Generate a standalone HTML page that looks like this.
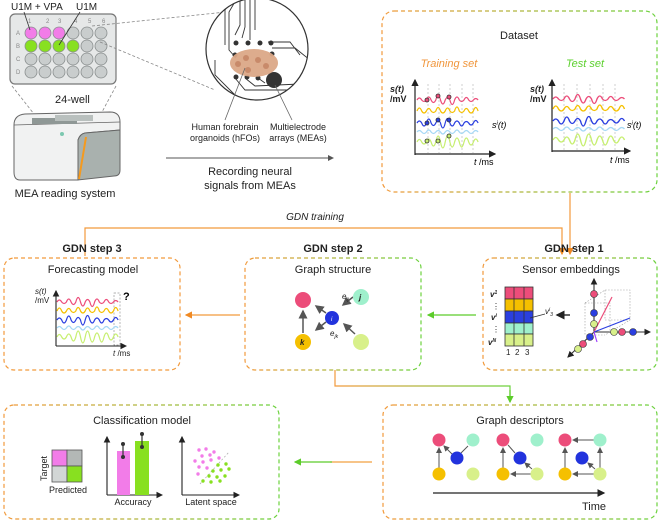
<!DOCTYPE html>
<html><head><meta charset="utf-8"><style>
html,body{margin:0;padding:0;background:#fff;}
svg{display:block;font-family:"Liberation Sans",sans-serif;}
</style></head><body>
<svg width="660" height="522" viewBox="0 0 660 522" xmlns="http://www.w3.org/2000/svg">
<defs>
<linearGradient id="og" x1="0" x2="1" y1="0" y2="0"><stop offset="0" stop-color="#f29a3c"/><stop offset="1" stop-color="#6cd23e"/></linearGradient>
<marker id="ao" markerWidth="6" markerHeight="6" refX="5" refY="3" orient="auto"><path d="M0,0 L6,3 L0,6 z" fill="#f08a24"/></marker>
<marker id="ag" markerWidth="6" markerHeight="6" refX="5" refY="3" orient="auto"><path d="M0,0 L6,3 L0,6 z" fill="#5ccc2a"/></marker>
<marker id="ak" markerWidth="6" markerHeight="6" refX="5" refY="3" orient="auto"><path d="M0,0 L6,3 L0,6 z" fill="#222"/></marker>
<marker id="as" markerWidth="6" markerHeight="6" refX="5" refY="3" orient="auto"><path d="M0,0 L6,3 L0,6 z" fill="#555"/></marker>
<path id="wA" d="M0,0 q2.5,-4 5,0 q2.5,3 5,0 q2.5,-6 5,0 q2.5,5 5,0 q2.5,-9 5,0 q2.5,8 5,0 q2.5,-5 5,0 q2.5,9 5,0 q2.5,-6 5,0 q2.5,3 5,0 q2.5,-5 5,0 q2.5,3 5,0 q2.5,-3 5,0" fill="none" stroke-width="1.3"/>
<path id="wB" d="M0,0 q2.5,-6 5,0 q2.5,4 5,0 q2.5,-5 5,0 q2.5,3 5,0 q2.5,-7 5,0 q2.5,4 5,0 q2.5,-6 5,0 q2.5,3 5,0 q2.5,-8 5,0 q2.5,3 5,0 q2.5,-5 5,0 q2.5,4 5,0 q2.5,-7 5,0" fill="none" stroke-width="1.3"/>
<path id="wC" d="M0,0 q2.5,-4 5,0 q2.5,6 5,0 q2.5,-8 5,0 q2.5,5 5,0 q2.5,-5 5,0 q2.5,10 5,0 q2.5,-9 5,0 q2.5,6 5,0 q2.5,-4 5,0 q2.5,6 5,0 q2.5,-3 5,0 q2.5,4 5,0 q2.5,-5 5,0" fill="none" stroke-width="1.3"/>
<path id="wD" d="M0,0 q2.5,-3 5,0 q2.5,3 5,0 q2.5,-4 5,0 q2.5,3 5,0 q2.5,-3 5,0 q2.5,4 5,0 q2.5,-3 5,0 q2.5,3 5,0 q2.5,-4 5,0 q2.5,3 5,0 q2.5,-3 5,0 q2.5,3 5,0 q2.5,-3 5,0" fill="none" stroke-width="1.3"/>
<path id="wE" d="M0,0 q2.5,-5 5,0 q2.5,4 5,0 q2.5,-6 5,0 q2.5,8 5,0 q2.5,-12 5,0 q2.5,12 5,0 q2.5,-12 5,0 q2.5,10 5,0 q2.5,-8 5,0 q2.5,10 5,0 q2.5,-8 5,0 q2.5,6 5,0 q2.5,-6 5,0" fill="none" stroke-width="1.3"/>
</defs>

<!-- 24-well plate -->
<rect x="10" y="14" width="106" height="70" rx="5" fill="#e6e8e8" stroke="#777" stroke-width="1.2"/>
<g font-size="6" fill="#888">
<text x="28" y="23">1</text><text x="46" y="23">2</text><text x="58" y="23">3</text><text x="74" y="23">4</text><text x="88" y="23">5</text><text x="102" y="23">6</text>
<text x="16" y="35">A</text><text x="16" y="48">B</text><text x="16" y="61">C</text><text x="16" y="74">D</text></g>
<g stroke="#8a8f8f" stroke-width="0.8">
<circle cx="31" cy="33" r="6" fill="#f27ce8"/><circle cx="45" cy="33" r="6" fill="#f27ce8"/><circle cx="59" cy="33" r="6" fill="#f27ce8"/>
<circle cx="73" cy="33" r="6" fill="#c9cdcd"/><circle cx="87" cy="33" r="6" fill="#c9cdcd"/><circle cx="101" cy="33" r="6" fill="#c9cdcd"/>
<circle cx="31" cy="46" r="6" fill="#88e020"/><circle cx="45" cy="46" r="6" fill="#88e020"/><circle cx="59" cy="46" r="6" fill="#88e020"/><circle cx="73" cy="46" r="6" fill="#88e020"/>
<circle cx="87" cy="46" r="6" fill="#c9cdcd"/><circle cx="101" cy="46" r="6" fill="#c9cdcd"/>
<circle cx="31" cy="59" r="6" fill="#c9cdcd"/><circle cx="45" cy="59" r="6" fill="#c9cdcd"/><circle cx="59" cy="59" r="6" fill="#c9cdcd"/><circle cx="73" cy="59" r="6" fill="#c9cdcd"/><circle cx="87" cy="59" r="6" fill="#c9cdcd"/><circle cx="101" cy="59" r="6" fill="#c9cdcd"/>
<circle cx="31" cy="72" r="6" fill="#c9cdcd"/><circle cx="45" cy="72" r="6" fill="#c9cdcd"/><circle cx="59" cy="72" r="6" fill="#c9cdcd"/><circle cx="73" cy="72" r="6" fill="#c9cdcd"/><circle cx="87" cy="72" r="6" fill="#c9cdcd"/><circle cx="101" cy="72" r="6" fill="#c9cdcd"/>
</g>
<line x1="24" y1="12" x2="30" y2="30" stroke="#333" stroke-width="0.8"/>
<line x1="80" y1="12" x2="59" y2="45" stroke="#333" stroke-width="0.8"/>
<text x="11" y="10" font-size="10" fill="#222">U1M + VPA</text>
<text x="76" y="10" font-size="10" fill="#222">U1M</text>
<text x="55" y="103" font-size="11" fill="#222">24-well</text>
<g stroke="#888" stroke-width="0.8" stroke-dasharray="3,2" fill="none">
<line x1="92" y1="26" x2="245" y2="10"/><line x1="100" y1="42" x2="215" y2="90"/>
<line x1="12" y1="86" x2="45" y2="128"/><line x1="116" y1="86" x2="95" y2="125"/></g>

<!-- MEA machine -->
<path d="M14,125 Q14,115 25,114 L110,112 Q120,112 120,122 L120,130 L85,133 Q80,134 78,140 L78,180 L20,180 Q14,180 14,172 Z" fill="#f1f2f2" stroke="#666" stroke-width="1"/>
<path d="M78,140 Q80,134 85,133 L120,130 L120,170 Q120,176 114,176 L78,180 Z" fill="#a9b1ae" stroke="#666" stroke-width="1"/>
<path d="M14,125 L120,122" stroke="#666" stroke-width="0.8"/>
<rect x="32" y="118" width="45" height="6" fill="#8f9896"/><rect x="55" y="115" width="38" height="6" fill="#b9c0be"/>
<circle cx="62" cy="134" r="2" fill="#7cc8b0"/>
<line x1="86" y1="137" x2="79" y2="179" stroke="#f59a1e" stroke-width="2"/>
<text x="65" y="197" font-size="11" fill="#222" text-anchor="middle">MEA reading system</text>

<!-- MEA circle -->
<clipPath id="cc"><circle cx="257" cy="49" r="51"/></clipPath>
<circle cx="257" cy="49" r="51" fill="#fff" stroke="#333" stroke-width="1.2"/>
<g clip-path="url(#cc)" fill="none" stroke="#333" stroke-width="0.9">
<path d="M240,-5 L240,25 L235,35"/><path d="M245,-5 L245,27 L242,38"/><path d="M250,-5 L250,30 L250,40"/><path d="M255,-5 L255,30"/>
<path d="M232,0 L225,10 L225,45"/><path d="M236,0 L229,12 L229,50 L236,58"/>
<path d="M268,42 L290,42 L300,55"/><path d="M272,48 L295,48 L310,60"/>
<path d="M235,78 L245,90 L300,90"/><path d="M245,78 L255,86 L300,84"/><path d="M215,60 L215,75 L235,95"/>
<path d="M258,78 L265,83"/>
</g>
<g fill="#333"><circle cx="236" cy="43" r="2.5"/><circle cx="248" cy="43" r="2.5"/><circle cx="260" cy="43" r="2.5"/><circle cx="271" cy="43" r="2.5"/>
<circle cx="235" cy="55" r="2.5"/><circle cx="272" cy="54" r="2.5"/>
<circle cx="236" cy="77" r="2.5"/><circle cx="247" cy="77" r="2.5"/><circle cx="258" cy="78" r="2.5"/>
<circle cx="274" cy="80" r="8"/></g>
<ellipse cx="254" cy="63" rx="24" ry="14" fill="#dba887" opacity="0.95"/>
<g fill="#c88a6a"><circle cx="246" cy="58" r="3"/><circle cx="258" cy="60" r="3"/><circle cx="266" cy="66" r="3"/><circle cx="248" cy="70" r="3"/><circle cx="238" cy="64" r="3"/></g>
<line x1="245" y1="68" x2="225" y2="120" stroke="#666" stroke-width="0.8"/>
<line x1="275" y1="85" x2="292" y2="120" stroke="#666" stroke-width="0.8"/>
<g font-size="9" fill="#222" text-anchor="middle">
<text x="225" y="130">Human forebrain</text><text x="225" y="141">organoids (hFOs)</text>
<text x="298" y="130">Multielectrode</text><text x="298" y="141">arrays (MEAs)</text></g>
<line x1="166" y1="158" x2="333" y2="158" stroke="#555" stroke-width="1" marker-end="url(#as)"/>
<g font-size="11" fill="#222" text-anchor="middle"><text x="250" y="175">Recording neural</text><text x="250" y="189">signals from MEAs</text></g>

<!-- Dataset box -->
<rect x="382" y="11" width="275" height="181" rx="12" fill="none" stroke="url(#og)" stroke-width="1.2" stroke-dasharray="4,3"/>
<text x="519" y="39" font-size="11" fill="#222" text-anchor="middle">Dataset</text>
<text x="449" y="67" font-size="11" fill="#f0963c" font-style="italic" text-anchor="middle">Training set</text>
<text x="585" y="67" font-size="11" fill="#5cd02e" font-style="italic" text-anchor="middle">Test set</text>
<g font-size="9" fill="#222" font-weight="bold"><text x="390" y="92" font-style="italic">s(t)</text><text x="390" y="102">/mV</text>
<text x="530" y="92" font-style="italic">s(t)</text><text x="530" y="102">/mV</text></g>
<text x="492" y="128" font-size="9" font-style="italic">s<tspan font-size="6" dy="-3">i</tspan><tspan dy="3">(t)</tspan></text>
<text x="627" y="128" font-size="9" font-style="italic">s<tspan font-size="6" dy="-3">i</tspan><tspan dy="3">(t)</tspan></text>
<text x="474" y="165" font-size="9" font-style="italic">t <tspan font-style="normal">/ms</tspan></text>
<text x="610" y="163" font-size="9" font-style="italic">t <tspan font-style="normal">/ms</tspan></text>
<g stroke="#222" stroke-width="1.2" fill="none">
<path d="M415,155 L415,80" marker-end="url(#ak)"/><path d="M415,154 L495,154" marker-end="url(#ak)"/>
<path d="M552,152 L552,80" marker-end="url(#ak)"/><path d="M552,151 L630,151" marker-end="url(#ak)"/></g>
<g stroke="#bbb" stroke-dasharray="2,2" stroke-width="0.7">
<line x1="428" y1="84" x2="428" y2="153"/><line x1="439" y1="84" x2="439" y2="153"/><line x1="450" y1="84" x2="450" y2="153"/><line x1="462" y1="84" x2="462" y2="153"/><line x1="473" y1="84" x2="473" y2="153"/>
<line x1="564" y1="84" x2="564" y2="150"/><line x1="577" y1="84" x2="577" y2="150"/><line x1="590" y1="84" x2="590" y2="150"/><line x1="603" y1="84" x2="603" y2="150"/><line x1="615" y1="84" x2="615" y2="150"/></g>
<g transform="translate(417,0) scale(0.94,1)">
<use href="#wA" y="100" stroke="#ec4d7a"/><use href="#wB" y="111" stroke="#f5c000"/><use href="#wC" y="123" stroke="#2b3fe0"/><use href="#wD" y="132" stroke="#a5d8f5"/><use href="#wE" y="142" stroke="#c7ef70"/></g>
<g transform="translate(553,0) scale(1.1,1)">
<use href="#wA" y="99" stroke="#ec4d7a"/><use href="#wB" y="109" stroke="#f5c000"/><use href="#wC" y="121" stroke="#2b3fe0"/><use href="#wD" y="129" stroke="#a5d8f5"/><use href="#wE" y="140" stroke="#c7ef70"/></g>
<g stroke="#333" stroke-width="0.8"><circle cx="427" cy="100" r="2" fill="#ec4d7a"/><circle cx="438" cy="96" r="2" fill="#ec4d7a"/><circle cx="449" cy="97" r="2" fill="#ec4d7a"/>
<circle cx="427" cy="123" r="2" fill="#2b3fe0"/><circle cx="438" cy="120" r="2" fill="#2b3fe0"/><circle cx="449" cy="120" r="2" fill="#2b3fe0"/>
<circle cx="427" cy="141" r="2" fill="#c7ef70"/><circle cx="438" cy="141" r="2" fill="#c7ef70"/><circle cx="449" cy="136" r="2" fill="#c7ef70"/></g>

<!-- GDN training connector -->
<path d="M85,256 L85,228 L562,228 L562,254" fill="none" stroke="#f29a3c" stroke-width="1.2" marker-end="url(#ao)"/>
<path d="M570,193 L570,254" fill="none" stroke="#f29a3c" stroke-width="1.2" marker-end="url(#ao)"/>
<text x="315" y="220" font-size="10" font-style="italic" fill="#222" text-anchor="middle">GDN training</text>

<!-- Step titles -->
<g font-size="11" font-weight="bold" fill="#222" text-anchor="middle">
<text x="92" y="252">GDN step 3</text><text x="333" y="252">GDN step 2</text><text x="574" y="252">GDN step 1</text></g>

<!-- Step boxes -->
<rect x="4" y="258" width="176" height="112" rx="10" fill="none" stroke="#f29a3c" stroke-width="1.2" stroke-dasharray="4,3"/>
<rect x="245" y="258" width="176" height="112" rx="10" fill="none" stroke="url(#og)" stroke-width="1.2" stroke-dasharray="4,3"/>
<rect x="483" y="258" width="174" height="112" rx="10" fill="none" stroke="url(#og)" stroke-width="1.2" stroke-dasharray="4,3"/>
<g font-size="11" fill="#222" text-anchor="middle">
<text x="93" y="273">Forecasting model</text><text x="333" y="273">Graph structure</text><text x="571" y="273">Sensor embeddings</text></g>

<!-- Forecast -->
<g font-size="8" fill="#222"><text x="35" y="294" font-style="italic">s(t)</text><text x="35" y="303">/mV</text><text x="113" y="356" font-style="italic">t <tspan font-style="normal">/ms</tspan></text></g>
<text x="123" y="300" font-size="11" font-weight="bold">?</text>
<g stroke="#222" stroke-width="1.1" fill="none"><path d="M56,346 L56,291" marker-end="url(#ak)"/><path d="M56,346 L126,346" marker-end="url(#ak)"/></g>
<rect x="114" y="293" width="6" height="52" fill="none" stroke="#999" stroke-width="0.7" stroke-dasharray="2,1.5"/>
<g transform="translate(57,0) scale(0.94,1)">
<use href="#wA" y="302" stroke="#ec4d7a"/><use href="#wB" y="311" stroke="#f5c000"/><use href="#wC" y="320" stroke="#2b3fe0"/><use href="#wD" y="328" stroke="#a5d8f5"/><use href="#wE" y="337" stroke="#c7ef70"/></g>

<!-- arrows between steps -->
<line x1="240" y1="315" x2="186" y2="315" stroke="#f29a3c" stroke-width="1.2" marker-end="url(#ao)"/>
<line x1="476" y1="315" x2="428" y2="315" stroke="#5ccc2a" stroke-width="1.2" marker-end="url(#ag)"/>

<!-- Graph structure -->
<g stroke="#555" stroke-width="1.5" fill="none">
<line x1="326" y1="313" x2="316" y2="306" marker-end="url(#as)"/><line x1="353" y1="297" x2="343" y2="305" marker-end="url(#as)"/>
<line x1="355" y1="334" x2="344" y2="324" marker-end="url(#as)"/><line x1="326" y1="322" x2="316" y2="330" marker-end="url(#as)"/>
<line x1="303" y1="333" x2="303" y2="311" marker-end="url(#as)"/></g>
<circle cx="303" cy="300" r="8" fill="#ec4d7a"/><circle cx="361" cy="297" r="8" fill="#9ff0cc"/>
<circle cx="332" cy="318" r="7" fill="#2233dd"/><circle cx="303" cy="342" r="8" fill="#f5c000"/><circle cx="361" cy="342" r="8" fill="#d8f08a"/>
<g font-size="8" font-style="italic" fill="#222"><text x="342" y="299">e<tspan font-size="5" dy="2">ij</tspan></text><text x="330" y="336">e<tspan font-size="5" dy="2">jk</tspan></text>
<text x="359" y="300" font-weight="bold">j</text><text x="300" y="345" font-weight="bold">k</text><text x="331" y="321" fill="#fff" font-size="6">i</text></g>

<!-- Sensor embeddings -->
<g stroke="#333" stroke-width="0.8">
<rect x="505" y="287" width="28" height="12" fill="#ec4d7a"/><rect x="505" y="299" width="28" height="12" fill="#f5c000"/><rect x="505" y="311" width="28" height="12" fill="#2b3fe0"/><rect x="505" y="323" width="28" height="11" fill="#9ff0cc"/><rect x="505" y="334" width="28" height="12" fill="#d8f08a"/>
<line x1="514" y1="287" x2="514" y2="346"/><line x1="524" y1="287" x2="524" y2="346"/></g>
<g font-size="8" fill="#222"><text x="490" y="297" font-weight="bold" font-style="italic">v<tspan font-size="5" dy="-3">1</tspan></text>
<text x="492" y="309">⋮</text><text x="491" y="320" font-weight="bold" font-style="italic">v<tspan font-size="5" dy="-3">i</tspan></text><text x="492" y="332">⋮</text>
<text x="488" y="345" font-weight="bold" font-style="italic">v<tspan font-size="5" dy="-3">N</tspan></text>
<text x="506" y="355">1</text><text x="515" y="355">2</text><text x="525" y="355">3</text>
<text x="545" y="314" font-style="italic">v<tspan font-size="5" dy="-3">i</tspan><tspan font-size="5" dy="5">3</tspan></text></g>
<line x1="545" y1="314" x2="530" y2="318" stroke="#333" stroke-width="0.8"/>
<line x1="570" y1="315" x2="557" y2="315" stroke="#333" stroke-width="1.5" marker-end="url(#ak)"/>
<g stroke="#333" stroke-width="1.1" fill="none">
<path d="M594,332 L594,279" marker-end="url(#ak)"/><path d="M594,332 L650,332" marker-end="url(#ak)"/><path d="M594,332 L568,357" marker-end="url(#ak)"/></g>
<g stroke="#999" stroke-width="0.6" stroke-dasharray="1.5,1.5" fill="none"><path d="M585,303 L605,290 L630,290 L630,320 L605,335 M605,290 L605,320 L630,320 M585,303 L585,335 L605,335 M585,303 L610,303 L610,333"/></g>
<line x1="594" y1="332" x2="612" y2="297" stroke="#ec4d7a" stroke-width="1.2"/>
<line x1="594" y1="332" x2="630" y2="318" stroke="#2b3fe0" stroke-width="1.2"/>
<line x1="594" y1="332" x2="597" y2="342" stroke="#a040ff" stroke-width="1.2"/>
<g stroke="#333" stroke-width="0.6"><circle cx="594" cy="294" r="3.5" fill="#ec4d7a"/><circle cx="594" cy="313" r="3.5" fill="#2b3fe0"/><circle cx="594" cy="324" r="3.5" fill="#d8f08a"/>
<circle cx="614" cy="332" r="3.5" fill="#d8f08a"/><circle cx="622" cy="332" r="3.5" fill="#ec4d7a"/><circle cx="633" cy="332" r="3.5" fill="#2b3fe0"/>
<circle cx="590" cy="337" r="3.5" fill="#2b3fe0"/><circle cx="583" cy="344" r="3.5" fill="#ec4d7a"/><circle cx="578" cy="349" r="3.5" fill="#d8f08a"/></g>

<!-- connector step2 -> graph descriptors -->
<path d="M335,370 L335,386 L510,386 L510,396" fill="none" stroke="url(#og)" stroke-width="1.2"/>
<path d="M510,390 L510,402" fill="none" stroke="#5ccc2a" stroke-width="1.2" marker-end="url(#ag)"/>

<!-- Bottom boxes -->
<rect x="4" y="405" width="275" height="114" rx="10" fill="none" stroke="url(#og)" stroke-width="1.2" stroke-dasharray="4,3"/>
<rect x="383" y="405" width="274" height="114" rx="10" fill="none" stroke="url(#og)" stroke-width="1.2" stroke-dasharray="4,3"/>
<line x1="372" y1="462" x2="330" y2="462" stroke="#f2a040" stroke-width="1.2"/>
<line x1="332" y1="462" x2="295" y2="462" stroke="#5ccc2a" stroke-width="1.2" marker-end="url(#ag)"/>
<text x="142" y="424" font-size="11" fill="#222" text-anchor="middle">Classification model</text>
<text x="520" y="424" font-size="11" fill="#222" text-anchor="middle">Graph descriptors</text>

<!-- confusion matrix -->
<g stroke="#555" stroke-width="0.8"><rect x="52" y="450" width="15" height="16" fill="#f27ce8"/><rect x="67" y="450" width="15" height="16" fill="#b3b8b6"/>
<rect x="52" y="466" width="15" height="16" fill="#d2d6d5"/><rect x="67" y="466" width="15" height="16" fill="#88e020"/></g>
<text x="47" y="481" font-size="9" fill="#222" transform="rotate(-90 47 481)">Target</text>
<text x="49" y="493" font-size="9" fill="#222">Predicted</text>
<!-- accuracy -->
<g stroke="#222" stroke-width="1.1" fill="none"><path d="M107,495 L107,437" marker-end="url(#ak)"/><path d="M107,495 L162,495" marker-end="url(#ak)"/></g>
<rect x="117" y="451" width="13" height="44" fill="#f27ce8"/><rect x="135" y="441" width="14" height="54" fill="#88e020"/>
<g stroke="#333" stroke-width="1.2"><line x1="123" y1="444" x2="123" y2="457"/><line x1="142" y1="434" x2="142" y2="447"/></g>
<g fill="#333"><circle cx="123" cy="444" r="2"/><circle cx="123" cy="457" r="2"/><circle cx="142" cy="434" r="2"/><circle cx="142" cy="447" r="2"/></g>
<text x="133" y="505" font-size="9" fill="#222" text-anchor="middle">Accuracy</text>
<!-- latent -->
<g stroke="#222" stroke-width="1.1" fill="none"><path d="M182,495 L182,437" marker-end="url(#ak)"/><path d="M182,495 L239,495" marker-end="url(#ak)"/></g>
<line x1="200" y1="484" x2="229" y2="452" stroke="#aaa" stroke-dasharray="2,2" stroke-width="0.7"/>
<g fill="#f27ce8"><circle cx="199" cy="450" r="1.7"/><circle cx="206" cy="449" r="1.7"/><circle cx="214" cy="452" r="1.7"/><circle cx="202" cy="456" r="1.7"/><circle cx="210" cy="455" r="1.7"/><circle cx="195" cy="461" r="1.7"/><circle cx="203" cy="462" r="1.7"/><circle cx="211" cy="460" r="1.7"/><circle cx="219" cy="458" r="1.7"/><circle cx="199" cy="467" r="1.7"/><circle cx="207" cy="468" r="1.7"/><circle cx="198" cy="474" r="1.7"/></g>
<g fill="#88e020"><circle cx="218" cy="465" r="1.7"/><circle cx="226" cy="464" r="1.7"/><circle cx="213" cy="471" r="1.7"/><circle cx="221" cy="470" r="1.7"/><circle cx="229" cy="469" r="1.7"/><circle cx="209" cy="476" r="1.7"/><circle cx="217" cy="477" r="1.7"/><circle cx="225" cy="476" r="1.7"/><circle cx="203" cy="481" r="1.7"/><circle cx="211" cy="482" r="1.7"/><circle cx="220" cy="481" r="1.7"/></g>
<text x="211" y="505" font-size="9" fill="#222" text-anchor="middle">Latent space</text>

<!-- Graph descriptors -->
<g stroke="#555" stroke-width="1" fill="none">
<line x1="439" y1="468" x2="439" y2="448" marker-end="url(#as)"/><line x1="452" y1="454" x2="444" y2="446" marker-end="url(#as)"/><line x1="468" y1="446" x2="461" y2="453"/>
<line x1="503" y1="468" x2="503" y2="448" marker-end="url(#as)"/><line x1="508" y1="445" x2="515" y2="453"/><line x1="532" y1="469" x2="525" y2="463" marker-end="url(#as)"/><line x1="531" y1="474" x2="511" y2="474" marker-end="url(#as)"/>
<line x1="594" y1="440" x2="573" y2="440" marker-end="url(#as)"/><line x1="600" y1="468" x2="600" y2="448" marker-end="url(#as)"/><line x1="594" y1="474" x2="573" y2="474" marker-end="url(#as)"/><line x1="565" y1="468" x2="565" y2="448" marker-end="url(#as)"/><line x1="595" y1="469" x2="588" y2="463" marker-end="url(#as)"/></g>
<g>
<circle cx="439" cy="440" r="6.5" fill="#ec4d7a"/><circle cx="473" cy="440" r="6.5" fill="#9ff0cc"/><circle cx="457" cy="458" r="6.5" fill="#2233dd"/><circle cx="439" cy="474" r="6.5" fill="#f5c000"/><circle cx="473" cy="474" r="6.5" fill="#d8f08a"/>
<circle cx="503" cy="440" r="6.5" fill="#ec4d7a"/><circle cx="537" cy="440" r="6.5" fill="#9ff0cc"/><circle cx="520" cy="458" r="6.5" fill="#2233dd"/><circle cx="503" cy="474" r="6.5" fill="#f5c000"/><circle cx="537" cy="474" r="6.5" fill="#d8f08a"/>
<circle cx="565" cy="440" r="6.5" fill="#ec4d7a"/><circle cx="600" cy="440" r="6.5" fill="#9ff0cc"/><circle cx="582" cy="458" r="6.5" fill="#2233dd"/><circle cx="565" cy="474" r="6.5" fill="#f5c000"/><circle cx="600" cy="474" r="6.5" fill="#d8f08a"/></g>
<line x1="433" y1="493" x2="604" y2="493" stroke="#222" stroke-width="1.3" marker-end="url(#ak)"/>
<text x="582" y="510" font-size="11" fill="#222">Time</text>
</svg>
</body></html>
